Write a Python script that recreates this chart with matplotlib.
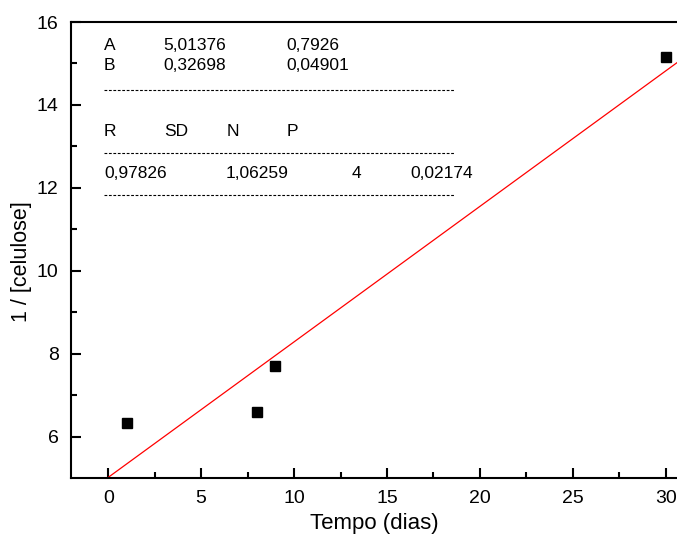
import matplotlib
matplotlib.use("Agg")
import matplotlib.pyplot as plt
import numpy as np

plt.rcParams["font.family"] = ["Liberation Sans", "DejaVu Sans"]

# dados
tempo = [1, 8, 9, 30]
inv_celulose = [6.33, 6.58, 7.69, 15.15]

# parâmetros do ajuste linear (da caixa de texto)
A, A_err = 5.01376, 0.7926
B, B_err = 0.32698, 0.04901
R, SD, N, P = 0.97826, 1.06259, 4, 0.02174

fig = plt.figure(figsize=(6.77, 5.41), dpi=100)
ax = fig.add_axes([0.1049, 0.1165, 0.8951, 0.8428])

ax.plot(tempo, inv_celulose, "s", color="black", markersize=7)

x_fit = np.linspace(0, 30.6, 50)
ax.plot(x_fit, A + B * x_fit, color="red", linewidth=0.9)

ax.set_xticks([0, 5, 10, 15, 20, 25, 30])
ax.set_xticks(np.arange(2.5, 31, 5), minor=True)
ax.set_yticks([6, 8, 10, 12, 14, 16])
ax.set_yticks([7, 9, 11, 13, 15], minor=True)
ax.set_xlim(-2, 30.6)
ax.set_ylim(5, 16)

ax.spines["right"].set_visible(False)
for s in ["left", "bottom", "top"]:
    ax.spines[s].set_linewidth(1.5)
ax.tick_params(which="major", direction="in", length=7, width=1.5, labelsize=14, pad=9)
ax.tick_params(which="minor", direction="in", length=4, width=1.5)

ax.set_xlabel("Tempo (dias)", fontsize=16, labelpad=4)
ax.set_ylabel("1 / [celulose]", fontsize=15.5, labelpad=3)
ax.yaxis.label.set_y(0.474)

def fmt(v):
    return str(v).replace(".", ",")

tr = ax.transAxes
def tx(px, py, s):
    ax.text((px - 71) / 606, 1 - (py - 22) / 456, s, transform=tr,
            fontsize=12.5, va="center", ha="left")

tx(104, 45, "A")
tx(163, 45, fmt(A))
tx(286, 45, fmt(A_err))
tx(104, 65, "B")
tx(163, 65, fmt(B))
tx(286, 65, fmt(B_err))
tx(104, 131, "R")
tx(164, 131, "SD")
tx(227, 131, "N")
tx(287, 131, "P")
tx(104, 173, fmt(R))
tx(226, 173, fmt(SD))
tx(352, 173, str(N))
tx(410, 173, fmt(P))

for py in [90, 153, 195]:
    yy = 1 - (py - 22) / 456
    ax.plot([(104 - 71) / 606, (455 - 71) / 606], [yy, yy], transform=tr,
            color="black", linewidth=0.8, linestyle=(0, (2.5, 1.5)))

fig.savefig("out.png", dpi=100)
